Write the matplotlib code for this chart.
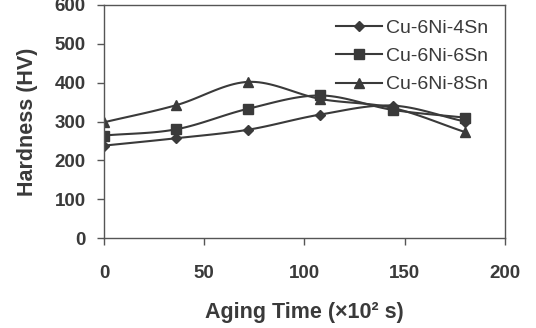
import numpy as np
import matplotlib
matplotlib.use("Agg")
import matplotlib.pyplot as plt

time = [0, 36, 72, 108, 144, 180]
sn4 = [238, 257, 279, 318, 341, 300]
sn6 = [264, 280, 333, 367, 330, 310]
sn8 = [298, 342, 402, 358, 335, 273]
labels = ["Cu-6Ni-4Sn", "Cu-6Ni-6Sn", "Cu-6Ni-8Sn"]
markers = ["D", "s", "^"]
msizes = [5, 7, 7.5]

def smooth(x, y, n=20):
    x = np.asarray(x, float); y = np.asarray(y, float)
    px = np.concatenate([[2*x[0]-x[1]], x, [2*x[-1]-x[-2]]])
    py = np.concatenate([[2*y[0]-y[1]], y, [2*y[-1]-y[-2]]])
    xs, ys = [], []
    for i in range(1, len(px)-2):
        t = np.linspace(0, 1, n, endpoint=False)
        for arr, out in ((px, xs), (py, ys)):
            p0, p1, p2, p3 = arr[i-1], arr[i], arr[i+1], arr[i+2]
            out.extend(0.5*((2*p1) + (-p0+p2)*t + (2*p0-5*p1+4*p2-p3)*t**2 + (-p0+3*p1-3*p2+p3)*t**3))
    xs.append(x[-1]); ys.append(y[-1])
    return np.array(xs), np.array(ys)

plt.rcParams['font.family'] = ['Liberation Sans', 'DejaVu Sans']
col = '#3a3a3a'
fig = plt.figure(figsize=(5.36, 3.28), dpi=100)
ax = fig.add_axes([0.194, 0.274, 0.748, 0.711])

for ys, lab, m, ms in zip([sn4, sn6, sn8], labels, markers, msizes):
    sx, sy = smooth(time, ys)
    ax.plot(sx, sy, color=col, lw=1.5)
    ax.plot(time, ys, linestyle='none', marker=m, color=col, ms=ms)
    ax.plot([], [], color=col, lw=1.5, marker=m, ms=ms, label=lab)

ax.set_xlim(0, 200)
ax.set_ylim(0, 600)
ax.set_xticks([0, 50, 100, 150, 200])
ax.set_yticks(range(0, 601, 100))
for s in ax.spines.values():
    s.set_color('#555555'); s.set_linewidth(1.0)
ax.tick_params(direction='out', length=5, width=1.0, color='#555555',
               labelsize=13.5, labelcolor=col)
ax.tick_params(axis='x', pad=14)
ax.tick_params(axis='y', pad=8)
for t in ax.get_xticklabels() + ax.get_yticklabels():
    t.set_fontweight('bold')
ax.set_xlabel("Aging Time (×10² s)", fontsize=15.5, fontweight='bold', color=col, labelpad=15)
ax.set_ylabel("Hardness (HV)", fontsize=15.5, fontweight='bold', color=col, labelpad=12)
leg = ax.legend(loc='upper right', bbox_to_anchor=(0.978, 0.972), frameon=False, fontsize=14,
                labelcolor=col, handlelength=2.4, borderaxespad=0.0, labelspacing=0.55,
                handletextpad=0.2)
fig.savefig("out.png", dpi=100)
